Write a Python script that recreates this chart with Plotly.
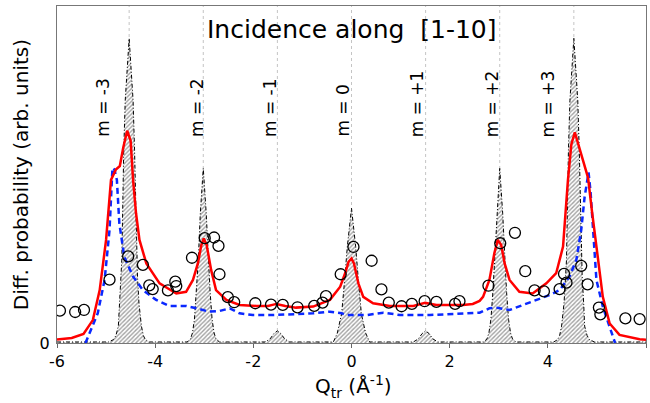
import plotly.graph_objects as go

# ---- data ----
m_labels = ["m = -3", "m = -2", "m = -1", "m = 0", "m = +1", "m = +2", "m = +3"]
m_pos = [-4.53, -3.02, -1.51, 0.0, 1.51, 3.02, 4.53]
m_shift = [-27, -7, -8, -8, -9, -8, -26]

exp_x = [-5.94, -5.63, -5.45, -4.93, -4.55, -4.25, -4.12, -4.05, -3.74, -3.59, -3.57,
         -3.25, -2.99, -2.80, -2.71, -2.69, -2.52, -2.39, -1.96, -1.64, -1.40, -1.10,
         -0.76, -0.59, -0.52, -0.22, 0.04, 0.41, 0.61, 0.76, 1.02, 1.23, 1.49, 1.73,
         2.11, 2.20, 2.79, 3.03, 3.33, 3.54, 3.73, 3.92, 4.24, 4.33, 4.38, 4.68, 4.81,
         5.04, 5.07, 5.58, 5.87]
exp_y = [0.096, 0.092, 0.098, 0.188, 0.257, 0.232, 0.171, 0.160, 0.156, 0.182, 0.169,
         0.253, 0.311, 0.313, 0.288, 0.204, 0.136, 0.121, 0.118, 0.114, 0.113, 0.106,
         0.110, 0.120, 0.139, 0.204, 0.285, 0.244, 0.159, 0.120, 0.109, 0.116, 0.124, 0.122,
         0.116, 0.124, 0.170, 0.296, 0.327, 0.213, 0.156, 0.153, 0.160, 0.205, 0.179, 0.229, 0.174,
         0.105, 0.085, 0.073, 0.071]

red_x = [-6.00, -5.70, -5.46, -5.27, -5.13, -5.00, -4.90, -4.80, -4.72, -4.65, -4.57,
         -4.50, -4.45, -4.39, -4.32, -4.18, -3.91, -3.57, -3.37, -3.23, -3.13, -3.06,
         -3.01, -2.95, -2.86, -2.76, -2.55, -2.28, -1.94, -1.70, -1.53, -1.35, -1.13,
         -0.78, -0.44, -0.23, -0.13, -0.06, 0.00, 0.05, 0.14, 0.24, 0.44, 0.78, 1.26,
         1.50, 1.73, 2.27, 2.47, 2.61, 2.68, 2.81, 2.91, 2.98, 3.05, 3.12, 3.22, 3.42,
         3.69, 3.97, 4.17, 4.31, 4.41, 4.48, 4.55, 4.62, 4.70, 4.82, 4.90, 4.99, 5.12,
         5.26, 5.46, 5.87, 6.00]
red_y = [0.010, 0.015, 0.027, 0.068, 0.157, 0.306, 0.484, 0.515, 0.525, 0.580, 0.630,
         0.600, 0.484, 0.385, 0.306, 0.236, 0.177, 0.147, 0.152, 0.187, 0.236, 0.290,
         0.310, 0.290, 0.217, 0.157, 0.128, 0.113, 0.110, 0.110, 0.116, 0.110, 0.105,
         0.108, 0.128, 0.167, 0.207, 0.241, 0.251, 0.236, 0.177, 0.137, 0.118, 0.110, 0.110,
         0.119, 0.113, 0.113, 0.116, 0.125, 0.137, 0.187, 0.266, 0.306, 0.291, 0.236, 0.187, 0.152,
         0.147, 0.177, 0.207, 0.286, 0.484, 0.590, 0.625, 0.590, 0.545, 0.490, 0.390, 0.286, 0.137,
         0.058, 0.024, 0.011, 0.010]

blue_x = [-5.42, -5.33, -5.17, -5.03, -4.93, -4.87, -4.83, -4.78, -4.73, -4.63, -4.45,
          -4.25, -3.98, -3.71, -3.37, -3.16, -2.90, -2.69, -2.48, -2.28, -2.01, -1.60,
          -0.78, -0.44, -0.20, -0.10, 0.31, 0.65, 0.99, 1.60, 2.27, 2.61, 2.81, 2.95,
          3.22, 3.49, 3.83, 4.03, 4.24, 4.44, 4.58, 4.68, 4.75, 4.80, 4.83, 4.87, 4.92,
          4.99, 5.12, 5.26, 5.37]
blue_y = [0.000, 0.030, 0.088, 0.187, 0.335, 0.520, 0.515, 0.484, 0.355, 0.256, 0.197,
          0.157, 0.128, 0.110, 0.110, 0.103, 0.093, 0.095, 0.103, 0.088, 0.083, 0.083,
          0.088, 0.093, 0.088, 0.083, 0.083, 0.090, 0.083, 0.083, 0.088, 0.090, 0.103, 0.105,
          0.098, 0.113, 0.133, 0.142, 0.157, 0.197, 0.246, 0.335, 0.434, 0.484, 0.506, 0.450, 0.335,
          0.187, 0.108, 0.048, 0.000]

peak_x = [-6.00,
          -4.95, -4.85, -4.80, -4.75, -4.73, -4.70, -4.68, -4.64, -4.61, -4.53, -4.45, -4.42,
          -4.38, -4.36, -4.33, -4.28, -4.24, -4.20, -4.12,
          -3.35, -3.28, -3.24, -3.20, -3.16, -3.12, -3.08, -3.02, -2.96, -2.92, -2.88, -2.84,
          -2.80, -2.76, -2.69,
          -1.76, -1.66, -1.58, -1.51, -1.44, -1.36, -1.26,
          -0.37, -0.29, -0.24, -0.20, -0.14, -0.085, 0.00, 0.085, 0.14, 0.20, 0.24, 0.29, 0.37,
          1.26, 1.36, 1.44, 1.51, 1.58, 1.66, 1.76,
          2.69, 2.76, 2.80, 2.84, 2.88, 2.92, 2.96, 3.02, 3.08, 3.12, 3.16, 3.20, 3.24, 3.28, 3.35,
          4.12, 4.20, 4.24, 4.28, 4.33, 4.36, 4.38, 4.42, 4.45, 4.53, 4.61, 4.64, 4.68, 4.70,
          4.73, 4.75, 4.80, 4.85, 4.95,
          6.00]
peak_y = [0.003,
          0.003, 0.010, 0.022, 0.050, 0.118, 0.197, 0.246, 0.573, 0.720, 0.904, 0.720, 0.573,
          0.246, 0.197, 0.118, 0.050, 0.022, 0.010, 0.003,
          0.003, 0.012, 0.030, 0.070, 0.150, 0.250, 0.385, 0.518, 0.385, 0.250, 0.150, 0.070,
          0.030, 0.012, 0.003,
          0.003, 0.012, 0.028, 0.036, 0.028, 0.012, 0.003,
          0.003, 0.029, 0.060, 0.088, 0.187, 0.286, 0.400, 0.286, 0.187, 0.088, 0.060, 0.029, 0.003,
          0.003, 0.012, 0.028, 0.036, 0.028, 0.012, 0.003,
          0.003, 0.012, 0.030, 0.070, 0.150, 0.250, 0.385, 0.518, 0.385, 0.250, 0.150, 0.070, 0.030, 0.012, 0.003,
          0.003, 0.010, 0.022, 0.050, 0.118, 0.197, 0.246, 0.573, 0.720, 0.904, 0.720, 0.573, 0.246, 0.197,
          0.118, 0.050, 0.022, 0.010, 0.003,
          0.003]

x_ticks = [-6, -4, -2, 0, 2, 4, 6]
x_ticktext = ["-6", "-4", "-2", "0", "2", "4", "6"]

FONT = "DejaVu Sans"

fig = go.Figure()

for p in m_pos:
    fig.add_vline(x=p, line=dict(color="#c4c4c4", width=1, dash="dot"), layer="below")

fig.add_trace(go.Scatter(
    x=peak_x, y=peak_y, mode="lines", fill="tozeroy",
    fillcolor="white",
    fillpattern=dict(shape="/", fgcolor="#444444", bgcolor="#ffffff", size=3, solidity=0.45),
    line=dict(color="black", width=1, dash="4px,2px,1px,2px"),
    showlegend=False, hoverinfo="skip"))

fig.add_trace(go.Scatter(
    x=blue_x, y=blue_y, mode="lines",
    line=dict(color="#0a28ff", width=2.5, dash="6px,4px"),
    showlegend=False))

fig.add_trace(go.Scatter(
    x=red_x, y=red_y, mode="lines",
    line=dict(color="#ff0000", width=2.5),
    showlegend=False))

fig.add_trace(go.Scatter(
    x=exp_x, y=exp_y, mode="markers",
    marker=dict(symbol="circle-open", size=11, color="black", line=dict(width=1.3, color="black")),
    showlegend=False))

for lab, p, s in zip(m_labels, m_pos, m_shift):
    fig.add_annotation(x=p, y=0.605, xref="x", yref="y", text=lab, textangle=-90,
                       showarrow=False, xanchor="center", yanchor="bottom", xshift=s,
                       font=dict(family=FONT, size=17, color="black"))

fig.add_annotation(x=0.5, y=0.929, xref="paper", yref="paper",
                   text="Incidence along \u00a0[1-10]", showarrow=False,
                   xanchor="center", yanchor="middle",
                   font=dict(family=FONT, size=25, color="black"))

fig.add_annotation(x=-0.0616, y=0.5, xref="paper", yref="paper",
                   text="Diff. probability (arb. units)", textangle=-90, showarrow=False,
                   xanchor="center", yanchor="middle",
                   font=dict(family=FONT, size=20, color="black"))

fig.add_annotation(x=0.503, y=-0.128, xref="paper", yref="paper",
                   text="Q<sub>tr</sub> (Å<sup>-1</sup>)", showarrow=False,
                   xanchor="center", yanchor="middle",
                   font=dict(family=FONT, size=20, color="black"))

fig.update_layout(
    width=650, height=403,
    margin=dict(l=57, r=4, t=6, b=60),
    paper_bgcolor="white", plot_bgcolor="white",
    font=dict(family=FONT, size=16, color="black"),
    xaxis=dict(range=[-6, 6], tickvals=x_ticks, ticktext=x_ticktext,
               ticks="outside", ticklen=4, tickcolor="#666", tickwidth=1,
               showline=True, linecolor="#777", linewidth=1, mirror=True,
               showgrid=False, zeroline=False,
               tickfont=dict(family=FONT, size=16, color="black")),
    yaxis=dict(range=[0, 1.0], tickvals=[0], ticktext=["0"],
               ticks="outside", ticklen=3, tickcolor="rgba(0,0,0,0)",
               showline=True, linecolor="#777", linewidth=1, mirror=True,
               showgrid=False, zeroline=False,
               tickfont=dict(family=FONT, size=16, color="black")),
)

fig.write_html("out.html")
